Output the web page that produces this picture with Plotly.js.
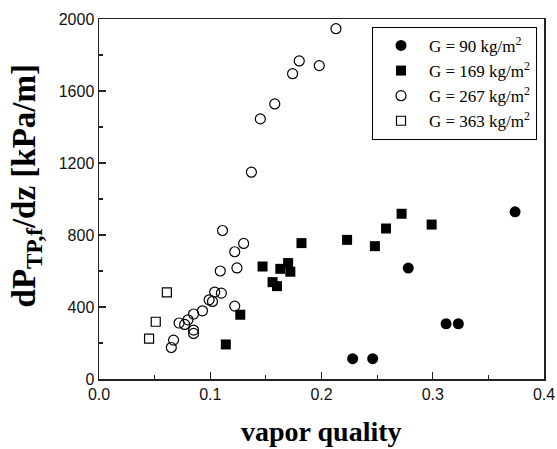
<!DOCTYPE html>
<html>
<head>
<meta charset="utf-8">
<script src="https://cdn.plot.ly/plotly-3.0.1.min.js"></script>
<style>html,body{margin:0;padding:0;background:#fff;}#chart{width:557px;height:449px;}</style>
</head>
<body>
<div id="chart"></div>
<script>
// G = 90 kg/m2 (filled circles)
var g90X = [0.228, 0.246, 0.278, 0.312, 0.323, 0.374];
var g90Y = [113, 113, 616, 307, 307, 929];
// G = 169 kg/m2 (filled squares)
var g169X = [0.114, 0.127, 0.147, 0.156, 0.160, 0.163, 0.170, 0.172, 0.182, 0.223, 0.248, 0.258, 0.272, 0.299];
var g169Y = [192, 357, 625, 538, 516, 612, 644, 596, 755, 773, 738, 836, 918, 858];
// G = 267 kg/m2 (open circles)
var g267X = [0.065, 0.067, 0.072, 0.077, 0.080, 0.085, 0.085, 0.085, 0.093, 0.099, 0.102, 0.104, 0.110, 0.109, 0.122, 0.124, 0.122, 0.130, 0.111, 0.137, 0.145, 0.158, 0.174, 0.180, 0.198, 0.213];
var g267Y = [175, 216, 311, 303, 329, 361, 253, 272, 379, 440, 431, 483, 477, 600, 405, 617, 707, 753, 825, 1149, 1445, 1528, 1696, 1767, 1741, 1946];
// G = 363 kg/m2 (open squares)
var g363X = [0.045, 0.051, 0.061];
var g363Y = [224, 318, 481];

var seriesNames = ['G = 90 kg/m<sup>2</sup>', 'G = 169 kg/m<sup>2</sup>', 'G = 267 kg/m<sup>2</sup>', 'G = 363 kg/m<sup>2</sup>'];
var xTickVals = [0.0, 0.1, 0.2, 0.3, 0.4];
var xTickText = ['0.0', '0.1', '0.2', '0.3', '0.4'];
var yTickVals = [0, 400, 800, 1200, 1600, 2000];
var xTitle = 'vapor quality';
var yTitle = 'dP<sub>TP,f</sub>/dz [kPa/m]';

var traces = [
  {x: g90X, y: g90Y, name: seriesNames[0], type: 'scatter', mode: 'markers',
   marker: {symbol: 'circle', size: 11, color: '#000', line: {width: 0}}},
  {x: g169X, y: g169Y, name: seriesNames[1], type: 'scatter', mode: 'markers',
   marker: {symbol: 'square', size: 10, color: '#000', line: {width: 0}}},
  {x: g267X, y: g267Y, name: seriesNames[2], type: 'scatter', mode: 'markers',
   marker: {symbol: 'circle-open', size: 10, color: '#000', line: {width: 1.2, color: '#000'}}},
  {x: g363X, y: g363Y, name: seriesNames[3], type: 'scatter', mode: 'markers',
   marker: {symbol: 'square-open', size: 9, color: '#000', line: {width: 1.2, color: '#000'}}}
];

var axisCommon = {
  showgrid: false, zeroline: false, showline: true, linecolor: '#222', linewidth: 1.5,
  mirror: true, ticks: 'inside', ticklen: 7, tickwidth: 1.2, tickcolor: '#222',
  tickfont: {family: 'Liberation Sans, Arial, sans-serif', size: 16, color: '#111'}
};

var layout = {
  width: 557, height: 449,
  margin: {l: 99, r: 13, t: 19, b: 70},
  paper_bgcolor: '#fff', plot_bgcolor: '#fff',
  showlegend: true,
  xaxis: Object.assign({}, axisCommon, {
    range: [0, 0.4], tickvals: xTickVals, ticktext: xTickText,
    minor: {dtick: 0.05, ticks: 'inside', ticklen: 4, tickwidth: 1.2, tickcolor: '#222'}
  }),
  yaxis: Object.assign({}, axisCommon, {
    range: [0, 2000], tickvals: yTickVals,
    minor: {dtick: 200, ticks: 'inside', ticklen: 4, tickwidth: 1.2, tickcolor: '#222'}
  }),
  legend: {
    x: 0.6135, y: 0.978, xanchor: 'left', yanchor: 'top',
    bgcolor: '#fff', bordercolor: '#000', borderwidth: 1,
    font: {family: 'Liberation Serif, Times New Roman, serif', size: 17, color: '#000'},
    itemwidth: 46
  },
  annotations: [
    {text: '<b>' + xTitle + '</b>', xref: 'paper', yref: 'paper', x: 0.5, y: -0.147,
     xanchor: 'center', yanchor: 'middle', showarrow: false,
     font: {family: 'Liberation Serif, Times New Roman, serif', size: 28, color: '#000'}},
    {text: '<b>' + yTitle + '</b>', xref: 'paper', yref: 'paper', x: -0.164, y: 0.535,
     xanchor: 'center', yanchor: 'middle', showarrow: false, textangle: -90,
     font: {family: 'Liberation Serif, Times New Roman, serif', size: 33, color: '#000'}}
  ]
};

Plotly.newPlot('chart', traces, layout, {displayModeBar: false, staticPlot: true});
</script>
</body>
</html>
